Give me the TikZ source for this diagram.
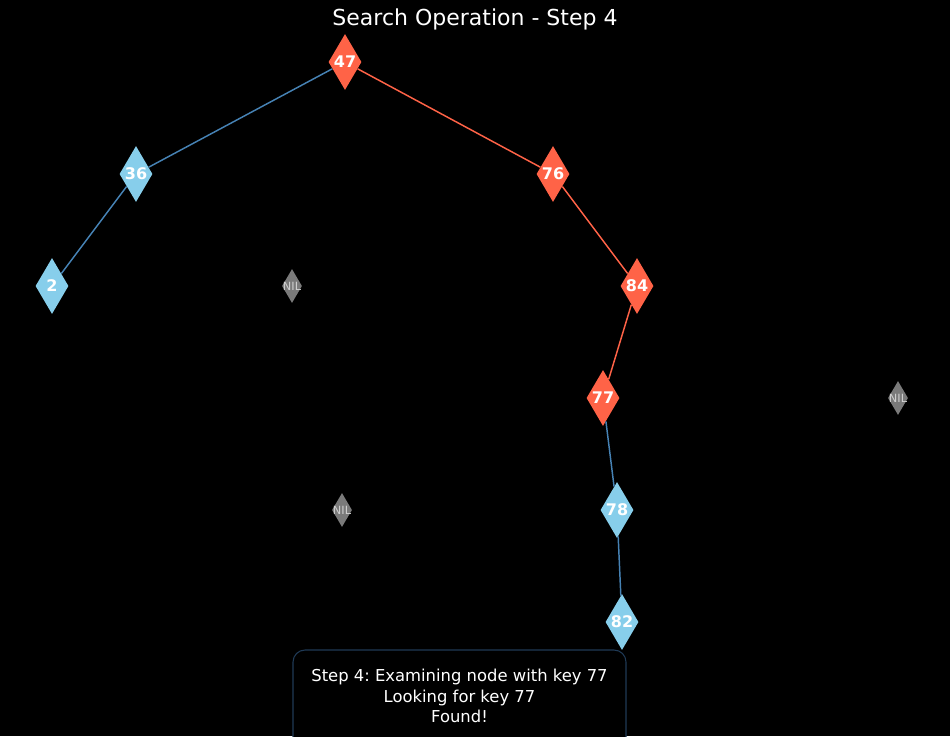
\documentclass[tikz,border=0pt]{standalone}
\usepackage{fontspec}
\setmainfont{DejaVu Sans}
\usetikzlibrary{shapes.geometric}
\frenchspacing
\definecolor{tomatoc}{HTML}{FF6347}
\definecolor{skyc}{HTML}{87CEEB}
\definecolor{steelc}{HTML}{4682B4}
\definecolor{nilc}{HTML}{7A7A7A}
\definecolor{niltext}{HTML}{D0D0D0}
\definecolor{boxborder}{HTML}{1F3A56}
\tikzset{
  keynode/.style={diamond, minimum width=33*0.75pt, minimum height=56*0.75pt, inner sep=0pt, draw=none,
    label={[text=white, font=\fontsize{12}{14}\selectfont\bfseries]center:#1}},
  hot/.style={keynode=#1, fill=tomatoc},
  cold/.style={keynode=#1, fill=skyc},
  nilnode/.style={diamond, minimum width=20*0.75pt, minimum height=34*0.75pt, inner sep=0pt, fill=nilc,
    label={[text=niltext, font=\fontsize{8.5}{10}\selectfont]center:NIL}},
  hotedge/.style={draw=tomatoc, line width=1.1pt},
  coldedge/.style={draw=steelc, line width=1.1pt},
}
\begin{document}
\begin{tikzpicture}[x=0.75pt,y=-0.75pt]
\fill[black] (0,0) rectangle (950,736);
\useasboundingbox (0,0) rectangle (950,736);
\node[text=white, font=\fontsize{16.5}{19}\selectfont] (title) at (475,19) {Search Operation - Step 4};
\node[hot=47] (n47) at (345,62) {};
\node[cold=36] (n36) at (136,174) {};
\node[hot=76] (n76) at (553,174) {};
\node[cold=2] (n2) at (52,286) {};
\node[nilnode] (nil1) at (292,286) {};
\node[hot=84] (n84) at (637,286) {};
\node[hot=77] (n77) at (603,398) {};
\node[nilnode] (nil2) at (898,398) {};
\node[nilnode] (nil3) at (342,510) {};
\node[cold=78] (n78) at (617,510) {};
\node[cold=82] (n82) at (622,622) {};
\draw[coldedge] (n47) -- (n36);
\draw[hotedge] (n47) -- (n76);
\draw[coldedge] (n36) -- (n2);
\draw[hotedge] (n76) -- (n84);
\draw[hotedge] (n84) -- (n77);
\draw[coldedge] (n77) -- (n78);
\draw[coldedge] (n78) -- (n82);
\draw[boxborder, line width=0.8pt, fill=black, rounded corners=12*0.75pt] (293,650) rectangle (626,760);
\node[text=white, font=\fontsize{12.3}{15.5}\selectfont, align=center] (info) at (459.5,696) {Step 4: Examining node with key 77\\Looking for key 77\\Found!};
\end{tikzpicture}
\end{document}
